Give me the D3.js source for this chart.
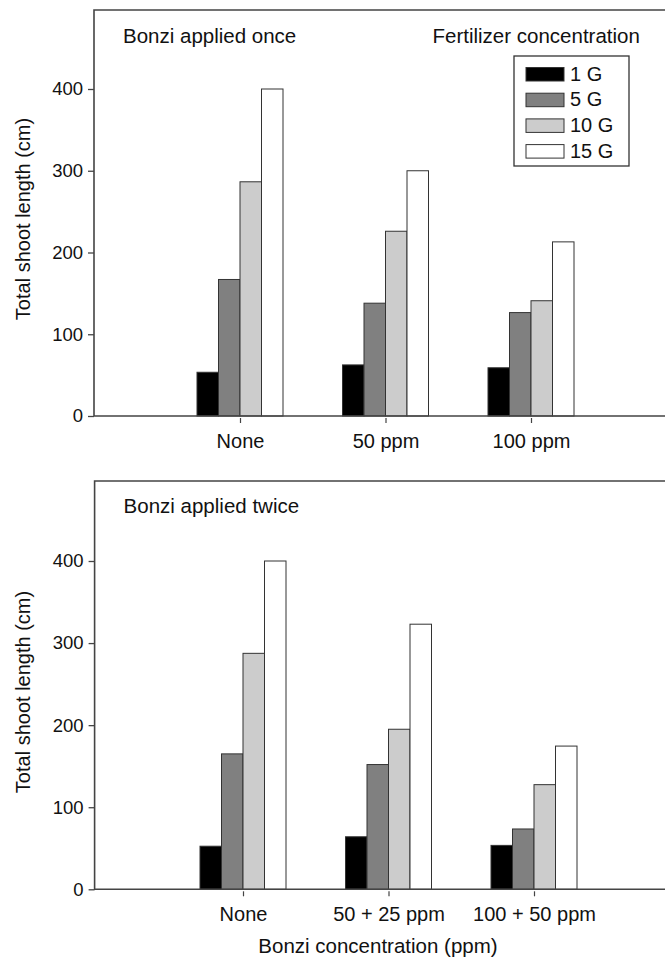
<!DOCTYPE html>
<html>
<head>
<meta charset="utf-8">
<script src="https://cdn.jsdelivr.net/npm/d3@7"></script>
<style>
  body { margin: 0; background: #fff; }
  svg { display: block; font-family: "Liberation Sans", Arial, sans-serif; }
</style>
</head>
<body>
<svg id="chart" width="665" height="959"></svg>
<script>
var series = ["1 G", "5 G", "10 G", "15 G"];
var fills = ["#000000", "#808080", "#cccccc", "#ffffff"];
var yTicks = [0, 100, 200, 300, 400];

var onceCats = ["None", "50 ppm", "100 ppm"];
var once1G = [53.5, 62.5, 59];
var once5G = [167, 138, 126.5];
var once10G = [286.5, 226, 141];
var once15G = [400, 300, 213];

var twiceCats = ["None", "50 + 25 ppm", "100 + 50 ppm"];
var twice1G = [52.5, 64, 53.5];
var twice5G = [165, 152, 73.5];
var twice10G = [287.5, 195, 127.5];
var twice15G = [400, 323, 174.5];

var svg = d3.select("#chart");

function drawPanel(opts) {
  var g = svg.append("g");

  var x = d3.scaleLinear().domain([0, 4]).range([opts.x0, opts.x0 + 582]);
  var y = d3.scaleLinear().domain([0, 400]).range([opts.base, opts.top400]);
  var sub = d3.scaleBand().domain(series).range([-43, 43]);

  var rows = opts.cats.map(function(c, i) {
    return { cat: c, pos: i + 1, vals: opts.values.map(function(v) { return v[i]; }) };
  });

  // bars
  var grp = g.selectAll(".grp")
    .data(rows)
    .enter().append("g")
    .attr("transform", function(d) { return "translate(" + x(d.pos) + ",0)"; });

  grp.selectAll("rect")
    .data(function(d) { return d.vals.map(function(v, k) { return { s: series[k], v: v, k: k }; }); })
    .enter().append("rect")
    .attr("x", function(d) { return sub(d.s); })
    .attr("width", sub.bandwidth())
    .attr("y", function(d) { return y(d.v); })
    .attr("height", function(d) { return y(0) - y(d.v); })
    .attr("fill", function(d) { return fills[d.k]; })
    .attr("stroke", "#333")
    .attr("stroke-width", 1);

  // frame: left, top, bottom (right side runs off the page)
  g.append("path")
    .attr("d", "M" + 700 + "," + opts.frameTop + "H" + opts.frameLeft + "V" + opts.base + "H700")
    .attr("fill", "none")
    .attr("stroke", "#444")
    .attr("stroke-width", 1.6);

  // y axis
  var ya = g.append("g")
    .attr("transform", "translate(" + opts.frameLeft + ",0)")
    .call(d3.axisLeft(y).tickValues(yTicks).tickSize(6).tickPadding(5));
  ya.select(".domain").remove();
  ya.selectAll("line").attr("stroke", "#444").attr("stroke-width", 1.3);
  ya.selectAll("text").attr("font-size", 18.5).attr("font-family", null).attr("fill", "#111");

  // x axis
  var xa = g.append("g")
    .attr("transform", "translate(0," + (opts.base + 2) + ")")
    .call(d3.axisBottom(x).tickValues([1, 2, 3]).tickSize(5)
      .tickFormat(function(d) { return opts.cats[d - 1]; }));
  xa.select(".domain").remove();
  xa.selectAll("line").attr("stroke", "#444").attr("stroke-width", 1.2);
  xa.selectAll("text")
    .attr("y", 29.5).attr("dy", null)
    .attr("font-size", 20).attr("font-family", null).attr("fill", "#111");

  // y label
  g.append("text")
    .attr("transform", "translate(30," + opts.yLabelMid + ") rotate(-90)")
    .attr("text-anchor", "middle")
    .attr("font-size", 20)
    .attr("fill", "#111")
    .text("Total shoot length (cm)");

  // panel title
  g.append("text")
    .attr("x", opts.frameLeft + 29)
    .attr("y", opts.titleY)
    .attr("font-size", 20.5)
    .attr("fill", "#111")
    .text(opts.title);

  return g;
}

drawPanel({
  cats: onceCats,
  values: [once1G, once5G, once10G, once15G],
  x0: 94.5, base: 416, top400: 89, frameLeft: 94, frameTop: 10,
  yLabelMid: 219, titleY: 43, title: "Bonzi applied once"
});

drawPanel({
  cats: twiceCats,
  values: [twice1G, twice5G, twice10G, twice15G],
  x0: 97.5, base: 889.3, top400: 561, frameLeft: 94.6, frameTop: 481,
  yLabelMid: 692, titleY: 513, title: "Bonzi applied twice"
});

// legend
svg.append("text")
  .attr("x", 432.5).attr("y", 42.5)
  .attr("font-size", 20.5).attr("fill", "#111")
  .text("Fertilizer concentration");

svg.append("rect")
  .attr("x", 514).attr("y", 56).attr("width", 115).attr("height", 110)
  .attr("fill", "#fff").attr("stroke", "#333").attr("stroke-width", 1.3);

var leg = svg.selectAll(".leg")
  .data(series)
  .enter().append("g")
  .attr("transform", function(d, i) { return "translate(526," + (67.5 + i * 25.7) + ")"; });

leg.append("rect")
  .attr("width", 38).attr("height", 13.5)
  .attr("fill", function(d, i) { return fills[i]; })
  .attr("stroke", "#333").attr("stroke-width", 1);

leg.append("text")
  .attr("x", 44).attr("y", 13)
  .attr("font-size", 20).attr("fill", "#111")
  .text(function(d) { return d; });

// x axis title
svg.append("text")
  .attr("x", 378).attr("y", 953)
  .attr("text-anchor", "middle")
  .attr("font-size", 20.5).attr("fill", "#111")
  .text("Bonzi concentration (ppm)");
</script>
</body>
</html>
